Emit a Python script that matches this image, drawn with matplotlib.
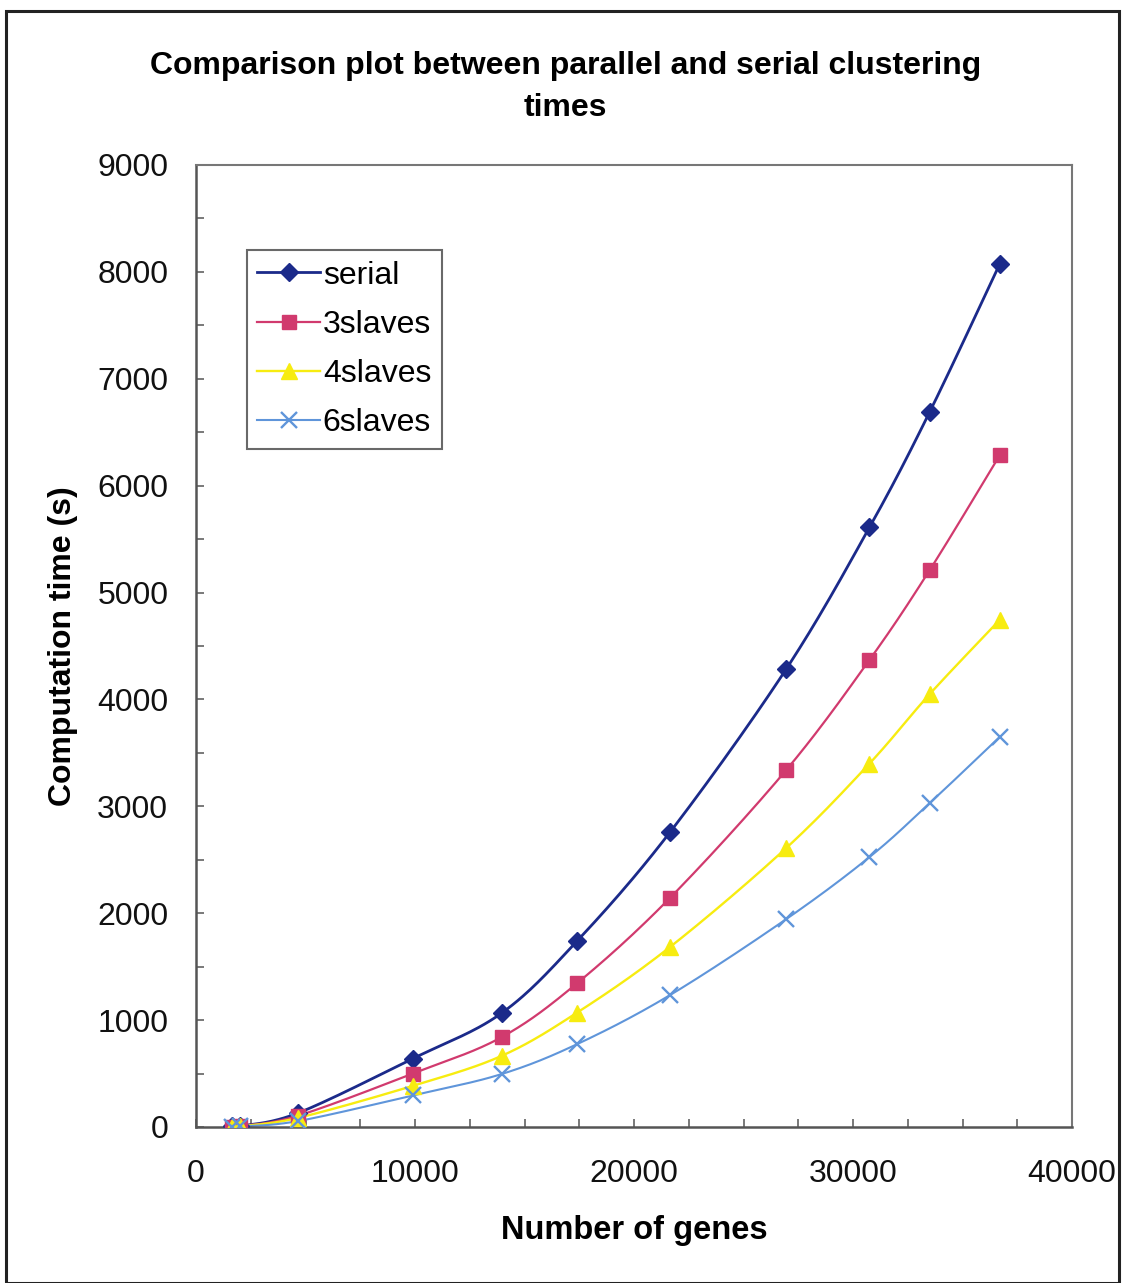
import numpy as np
import matplotlib
matplotlib.use("Agg")
import matplotlib.pyplot as plt
from matplotlib.ticker import MultipleLocator
from matplotlib.patches import Rectangle

plt.rcParams['font.family'] = ['Liberation Sans', 'DejaVu Sans']

# Number of genes clustered in each run
genes = [1650, 2000, 4650, 9900, 13950, 17400, 21650, 26950, 30750, 33500, 36700]

# Computation time in seconds for each configuration
serial = [5, 8, 130, 640, 1065, 1740, 2760, 4285, 5610, 6690, 8075]
slaves3 = [4, 7, 105, 500, 840, 1345, 2145, 3340, 4370, 5210, 6285]
slaves4 = [3, 6, 85, 385, 665, 1070, 1685, 2610, 3400, 4050, 4745]
slaves6 = [3, 5, 55, 295, 495, 775, 1235, 1945, 2525, 3030, 3650]

series_names = ["serial", "3slaves", "4slaves", "6slaves"]

title_text = "Comparison plot between parallel and serial clustering\ntimes"
x_label = "Number of genes"
y_label = "Computation time (s)"


def smooth_curve(x, y, steps=30):
    """Cardinal-spline (Catmull-Rom) path through the given points."""
    x = np.asarray(x, float)
    y = np.asarray(y, float)
    n = len(x)
    xs, ys = [x[0]], [y[0]]
    t = np.linspace(0, 1, steps)[1:]
    for i in range(n - 1):
        p0 = np.array([x[max(i - 1, 0)], y[max(i - 1, 0)]])
        p1 = np.array([x[i], y[i]])
        p2 = np.array([x[i + 1], y[i + 1]])
        p3 = np.array([x[min(i + 2, n - 1)], y[min(i + 2, n - 1)]])
        c1 = p1 + (p2 - p0) / 6.0
        c2 = p2 - (p3 - p1) / 6.0
        b = ((1 - t) ** 3)[:, None] * p1 + (3 * (1 - t) ** 2 * t)[:, None] * c1 \
            + (3 * (1 - t) * t ** 2)[:, None] * c2 + (t ** 3)[:, None] * p2
        xs.extend(b[:, 0])
        ys.extend(b[:, 1])
    return np.array(xs), np.array(ys)


fig = plt.figure(figsize=(11.26, 12.83), dpi=100)
ax = fig.add_axes([0.1741, 0.1216, 0.7780, 0.7498])

styles = [
    dict(color="#1B2A8A", marker="D", ms=9, lw=2.0, mew=1),
    dict(color="#D13A6E", marker="s", ms=10.5, lw=1.6, mew=1),
    dict(color="#F7EC10", marker="^", ms=11, lw=1.7, mew=1),
    dict(color="#5F95DA", marker="x", ms=11, lw=1.5, mew=1.7),
]

for vals, name, st in zip([serial, slaves3, slaves4, slaves6], series_names, styles):
    sx, sy = smooth_curve(genes, vals)
    ax.plot(sx, sy, color=st["color"], lw=st["lw"], zorder=2)
    ax.plot(genes, vals, linestyle="none", marker=st["marker"], ms=st["ms"],
            color=st["color"], mec=st["color"], mew=st["mew"], zorder=3)
    # legend proxy
    ax.plot([], [], color=st["color"], lw=st["lw"], marker=st["marker"],
            ms=st["ms"], mew=st["mew"], label=name)

ax.set_xlim(0, 40000)
ax.set_ylim(0, 9000)
ax.xaxis.set_major_locator(MultipleLocator(10000))
ax.xaxis.set_minor_locator(MultipleLocator(2500))
ax.yaxis.set_major_locator(MultipleLocator(1000))
ax.yaxis.set_minor_locator(MultipleLocator(500))
ax.tick_params(axis="both", which="both", direction="in", length=6, width=1.1,
               color="#555555", labelsize=23, labelcolor="#111111")
ax.tick_params(axis="x", which="both", pad=23, top=False)
ax.tick_params(axis="y", which="both", pad=20, right=False)

for side in ["left", "bottom"]:
    ax.spines[side].set_color("#555555")
    ax.spines[side].set_linewidth(1.8)
for side in ["top", "right"]:
    ax.spines[side].set_color("#777777")
    ax.spines[side].set_linewidth(1.5)

ax.set_xlabel(x_label, fontsize=23.5, fontweight="bold", labelpad=19)
ax.set_ylabel(y_label, fontsize=23, fontweight="bold", labelpad=14)

fig.text(0.502, 0.9322, title_text, ha="center", va="center", fontsize=23,
         fontweight="bold", linespacing=1.5)

leg = ax.legend(loc="upper left", bbox_to_anchor=(0.058, 0.9116), fontsize=23,
                frameon=True, fancybox=False, edgecolor="#444444",
                handlelength=1.95, handletextpad=0.1, labelspacing=0.6,
                borderpad=0.33, borderaxespad=0)
leg.get_frame().set_linewidth(1.5)

# outer frame around the whole chart
fig.patches.append(Rectangle((6 / 1126, 0.0), (1119 - 6) / 1126, 1 - 11 / 1283,
                             transform=fig.transFigure, fill=False,
                             edgecolor="#222222", linewidth=2.2))

fig.savefig("out.png", dpi=100, facecolor="white")
